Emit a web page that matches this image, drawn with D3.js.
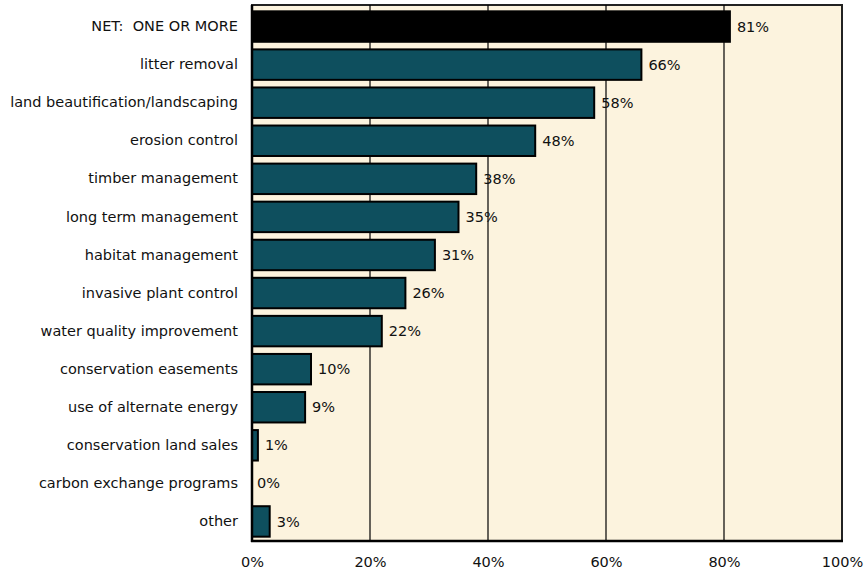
<!DOCTYPE html>
<html><head><meta charset="utf-8">
<script src="https://cdn.jsdelivr.net/npm/d3@7"></script>
<style>body{margin:0;background:#fff}svg{display:block}</style>
</head><body>
<svg id="c" width="865" height="574"></svg>
<script>
const categories = ["NET:  ONE OR MORE","litter removal","land beautification/landscaping","erosion control","timber management","long term management","habitat management","invasive plant control","water quality improvement","conservation easements","use of alternate energy","conservation land sales","carbon exchange programs","other"];
const values = [81,66,58,48,38,35,31,26,22,10,9,1,0,3];
const tickValues = [0,20,40,60,80,100];

const svg = d3.select("#c");
const L = 252, R = 842, T = 5, B = 541;
const font = "'DejaVu Sans', Tahoma, sans-serif";
const fs = 14.5;
const x = d3.scaleLinear().domain([0,100]).range([L,R]);
const y = d3.scaleBand().domain(categories).range([T+1,B+1]).paddingInner(0.2).paddingOuter(0.14);

svg.append("rect").attr("x",L).attr("y",T).attr("width",R-L).attr("height",B-T)
  .attr("fill","#fcf3de").attr("stroke","#222").attr("stroke-width",2);

svg.append("g").selectAll("line").data(tickValues.filter(v=>v>0&&v<100)).join("line")
  .attr("x1",d=>x(d)).attr("x2",d=>x(d)).attr("y1",T).attr("y2",B)
  .attr("stroke","#000").attr("stroke-width",1.2);

svg.append("g").selectAll("rect").data(values).join("rect")
  .attr("x",x(0)).attr("y",(d,i)=>y(categories[i]))
  .attr("width",d=>x(d)-x(0)).attr("height",y.bandwidth())
  .attr("fill",(d,i)=>i===0?"#000":"#0e4f5e")
  .attr("stroke","#000").attr("stroke-width",2)
  .attr("visibility",d=>d>0?"visible":"hidden");

svg.append("g").selectAll("text").data(values).join("text")
  .attr("x",d=>x(d)+(d>0?7:5)).attr("y",(d,i)=>y(categories[i])+y.bandwidth()/2)
  .attr("dy","0.35em").attr("font-family",font).attr("font-size",fs)
  .attr("fill","#111").text(d=>d+"%");

svg.append("line").attr("x1",L).attr("x2",L).attr("y1",T).attr("y2",B+1).attr("stroke","#000").attr("stroke-width",2.5);
svg.append("line").attr("x1",L-1).attr("x2",R+1).attr("y1",B).attr("y2",B).attr("stroke","#000").attr("stroke-width",2.5);

const ya = d3.axisLeft(y).tickSize(0).tickPadding(14);
const gy = svg.append("g").attr("transform",`translate(${L},0)`).call(ya);
gy.select(".domain").remove();
gy.selectAll("text").attr("font-family",font).attr("font-size",fs).attr("fill","#111")
  .style("white-space","pre").attr("xml:space","preserve");

const xa = d3.axisBottom(x).tickValues(tickValues).tickFormat(d=>d+"%").tickSize(0).tickPadding(16);
const gx = svg.append("g").attr("transform",`translate(0,${B})`).call(xa);
gx.select(".domain").remove();
gx.selectAll("text").attr("font-family",font).attr("font-size",fs).attr("fill","#111");
</script>
</body></html>
